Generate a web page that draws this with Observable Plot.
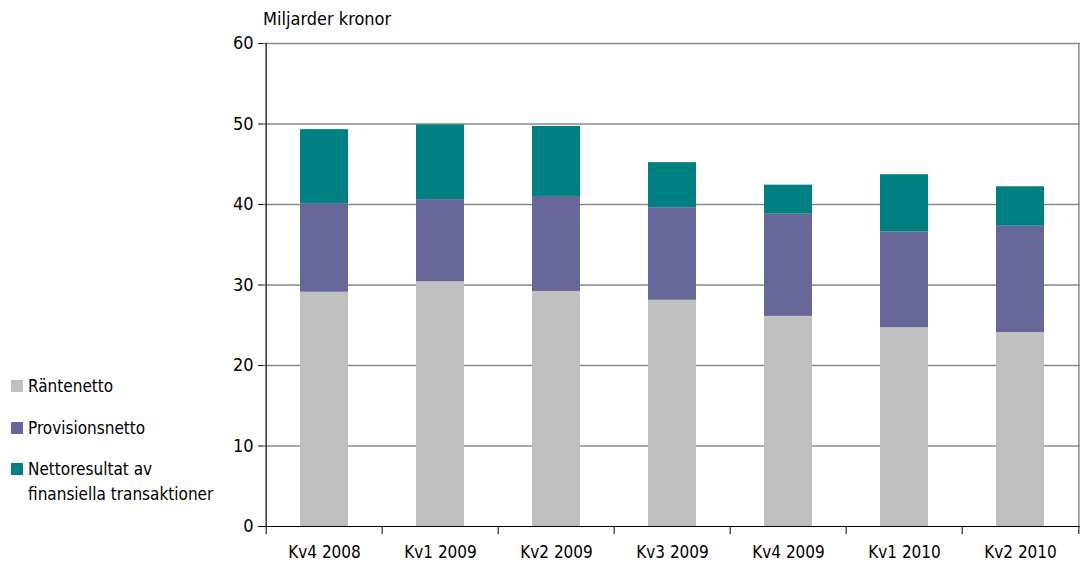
<!DOCTYPE html>
<html>
<head>
<meta charset="utf-8">
<script src="https://cdn.jsdelivr.net/npm/d3@7"></script>
<script src="https://cdn.jsdelivr.net/npm/@observablehq/plot@0.6"></script>
<style>
  body { margin: 0; background: #fff; font-family: "Liberation Sans Narrow", "DejaVu Sans Condensed", sans-serif; }
  #wrap { position: relative; width: 1085px; height: 567px; }
  #title { position: absolute; left: 263px; top: 8px; font-size: 18px; color: #000; }
  #legend { position: absolute; left: 11px; top: 0; font-size: 17px; color: #000; }
  .item { position: absolute; left: 0; white-space: nowrap; line-height: 25px; }
  .sw { position: absolute; left: 0; width: 12px; height: 12px; }
  .lbl { position: absolute; left: 17px; }
</style>
</head>
<body>
<div id="wrap">
  <div id="chart"></div>
  <div id="title">Miljarder kronor</div>
  <div id="legend"></div>
</div>
<script>
const categories = ["Kv4 2008", "Kv1 2009", "Kv2 2009", "Kv3 2009", "Kv4 2009", "Kv1 2010", "Kv2 2010"];
const seriesNames = ["Räntenetto", "Provisionsnetto", "Nettoresultat av finansiella transaktioner"];
const rantenetto = [29.1, 30.4, 29.2, 28.1, 26.1, 24.7, 24.1];
const provisionsnetto = [11.0, 10.2, 11.8, 11.5, 12.7, 11.9, 13.2];
const nettoresultat = [9.2, 9.3, 8.7, 5.6, 3.6, 7.1, 4.9];
const colors = ["#c0c0c0", "#666699", "#008080"];
const yTicks = [0, 10, 20, 30, 40, 50, 60];

const seriesValues = [rantenetto, provisionsnetto, nettoresultat];
const data = [];
seriesNames.forEach((s, si) => categories.forEach((c, i) => data.push({cat: c, series: s, value: seriesValues[si][i]})));

const W = 1085, H = 567, mL = 263, mR = 5, mT = 43, mB = 41;
const step = (W - mL - mR) / categories.length;

const chart = Plot.plot({
  width: W, height: H,
  marginLeft: mL, marginRight: mR, marginTop: mT, marginBottom: mB,
  style: {fontFamily: '"Liberation Sans Narrow", "DejaVu Sans Condensed", sans-serif', fontSize: "18px", color: "#000", background: "#fff"},
  x: {domain: categories, paddingInner: 0.59, paddingOuter: 0.295},
  y: {domain: [0, 60]},
  color: {domain: seriesNames, range: colors},
  marks: [
    Plot.ruleY(yTicks.filter(d => d > 0), {stroke: "#8a8a8a", strokeWidth: 1.3}),
    Plot.ruleX([categories[categories.length - 1]], {dx: step / 2, y1: 0, y2: 60, stroke: "#8a8a8a", strokeWidth: 1.5}),
    Plot.barY(data, {x: "cat", y: "value", fill: "series", order: seriesNames}),
    Plot.ruleX([categories[0]], {dx: -step / 2, y1: 0, y2: 60, stroke: "#000", strokeWidth: 1.2}),
    Plot.ruleX(categories, {dx: -step / 2, y1: 0, y2: -1, stroke: "#000", strokeWidth: 1}),
    Plot.ruleX([categories[categories.length - 1]], {dx: step / 2, y1: 0, y2: -1, stroke: "#000", strokeWidth: 1}),
    Plot.ruleY([0], {stroke: "#000", strokeWidth: 1.2}),
    Plot.axisY({ticks: yTicks, tickSize: 5, tickPadding: 5, label: null, stroke: "#000", fontSize: 18}),
    Plot.axisX({tickSize: 0, tickPadding: 19, label: null, fontSize: 17})
  ]
});
document.getElementById("chart").appendChild(chart);

const legend = document.getElementById("legend");
const rows = [{top: 374, label: "Räntenetto"}, {top: 416, label: "Provisionsnetto"}, {top: 457, label: "Nettoresultat av<br>finansiella transaktioner"}];
rows.forEach((r, i) => {
  const it = document.createElement("div");
  it.className = "item";
  it.style.top = r.top + "px";
  it.innerHTML = `<div class="sw" style="background:${colors[i]};top:6px"></div><div class="lbl">${r.label}</div>`;
  legend.appendChild(it);
});
</script>
</body>
</html>
